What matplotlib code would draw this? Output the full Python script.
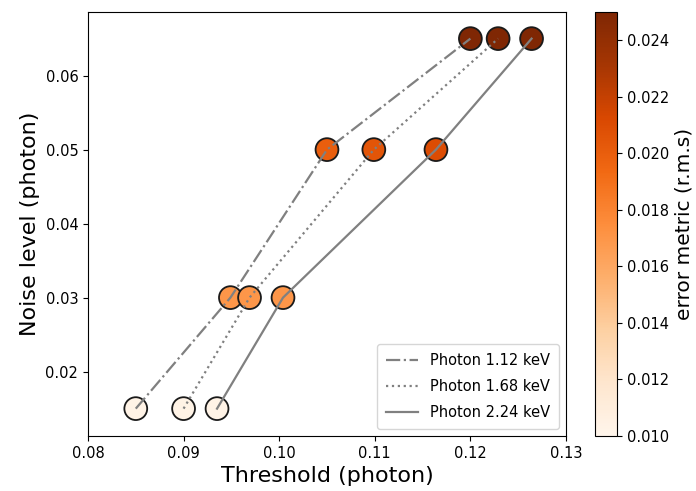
import matplotlib
matplotlib.use("Agg")
import matplotlib.pyplot as plt
import numpy as np

noise = [0.015, 0.03, 0.05, 0.065]
thr_112 = [0.0850, 0.0949, 0.1050, 0.1200]
thr_168 = [0.0900, 0.0969, 0.1099, 0.1229]
thr_224 = [0.0935, 0.1004, 0.1164, 0.1264]
err_112 = [0.0103, 0.0170, 0.0200, 0.0250]
err_168 = [0.0103, 0.0170, 0.0205, 0.0250]
err_224 = [0.0103, 0.0170, 0.0210, 0.0250]
labels = ["Photon 1.12 keV", "Photon 1.68 keV", "Photon 2.24 keV"]

fig = plt.figure(figsize=(6.96, 4.91), dpi=100)
ax = fig.add_axes([0.1264, 0.112, 0.6868, 0.8636])
cax = fig.add_axes([0.855, 0.112, 0.0316, 0.8636])

vmin, vmax = 0.010, 0.025
for thr, err in [(thr_112, err_112), (thr_168, err_168), (thr_224, err_224)]:
    sc = ax.scatter(thr, noise, c=err, cmap="Oranges", vmin=vmin, vmax=vmax,
                    s=270, edgecolors="#1a1a1a", linewidths=1.3, zorder=2)

styles = ["-.", ":", "-"]
for thr, ls, lab in zip([thr_112, thr_168, thr_224], styles, labels):
    ax.plot(thr, noise, ls=ls, color="gray", lw=1.6, label=lab, zorder=3)

ax.set_xlim(0.08, 0.13)
ax.set_ylim(0.0113, 0.0686)
ax.set_xticks([0.08, 0.09, 0.10, 0.11, 0.12, 0.13])
ax.set_xticklabels(["0.08", "0.09", "0.10", "0.11", "0.12", "0.13"])
ax.set_yticks([0.02, 0.03, 0.04, 0.05, 0.06])
ax.tick_params(labelsize=10.5)
ax.set_xlabel("Threshold (photon)", fontsize=16)
ax.set_ylabel("Noise level (photon)", fontsize=16)
ax.legend(loc="lower right", fontsize=10.5, labelspacing=0.75,
          handlelength=2.2, borderpad=0.6)

cb = fig.colorbar(sc, cax=cax)
cb.set_ticks([0.010, 0.012, 0.014, 0.016, 0.018, 0.020, 0.022, 0.024])
cb.ax.tick_params(labelsize=10.5)
cb.set_label("error metric (r.m.s)", fontsize=14.5)

fig.savefig("out.png", dpi=100)
